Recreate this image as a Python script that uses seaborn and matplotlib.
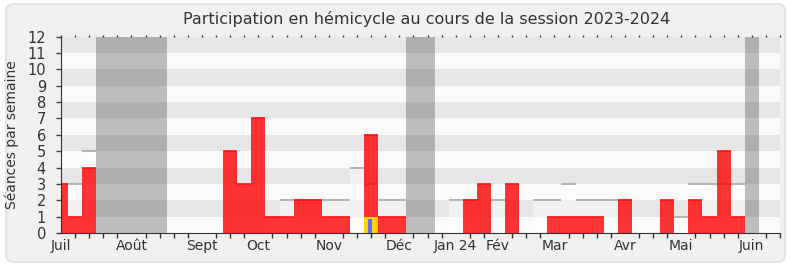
import numpy as np
import pandas as pd
import matplotlib
matplotlib.use("Agg")
import matplotlib.pyplot as plt
from matplotlib.patches import FancyBboxPatch
import seaborn as sns

# ---------------- data ----------------
weeks = np.arange(0, 52)
presence = [3, 1, 4, 0, 0, 0, 0, 0, 0, 0, 0, 0, 5, 3, 7, 1, 1, 2, 2, 1, 1, 0, 6, 1, 1, 0,
            0, 0, 0, 2, 3, 0, 3, 0, 0, 1, 1, 1, 1, 0, 2, 0, 0, 2, 0, 2, 1, 5, 1, 0, 0, 0]
median = [3, 3, 5, 0, 0, 0, 0, 0, 0, 0, 0, 0, 0, 0, 0, 1, 2, 2, 2, 2, 2, 4, 3, 2, 2, 0,
          0, 0, 2, 2, 0, 2, 0, 0, 2, 2, 3, 2, 2, 2, 2, 0, 0, 0, 1, 3, 3, 3, 3, 0, 0, 0]
vacation_weeks = [3, 4, 5, 6, 7, 25, 26, 49]
special_week = [22]
special_yellow = [1]
special_blue = [0.85]
month_labels = ["Juil", "Août", "Sept", "Oct", "Nov", "Déc", "Jan 24", "Fév",
                "Mar", "Avr", "Mai", "Juin"]
month_weeks = [0, 5, 10, 14, 19, 24, 28, 31, 35, 40, 44, 49]
y_max = 12
title = "Participation en hémicycle au cours de la session 2023-2024"
ylabel = "Séances par semaine"

# ---------------- style ----------------
plt.rcParams['font.family'] = ['DejaVu Sans']
TXT = "#333333"

fig = plt.figure(figsize=(7.9, 2.67), dpi=100)
fig.patch.set_facecolor("white")
frame = FancyBboxPatch((0.06, 0.05), 7.79, 2.58,
                       boxstyle="round,pad=0,rounding_size=0.07",
                       transform=fig.dpi_scale_trans, facecolor="#F0F0F0",
                       edgecolor="#DCDCDC", linewidth=1.0, zorder=-10)
fig.patches.append(frame)

ax = fig.add_axes([61 / 790, 1 - 233 / 267, (780 - 61) / 790, (233 - 36.7) / 267])
ax.set_zorder(5)
ax.set_facecolor("#FAFAFA")

# background stripes
for k in range(y_max):
    ax.axhspan(k, k + 1, color="#E6E6E6" if k % 2 == 1 else "#FAFAFA",
               lw=0, zorder=0)

# vacation bands
for w in vacation_weeks:
    ax.axvspan(w - 0.5, w + 0.5, color="#323232", alpha=0.3, lw=0, zorder=1)

df = pd.DataFrame({"week": weeks, "presence": presence, "median": median})

# median light bars
sns.barplot(data=df, x="week", y="median", native_scale=True, width=1,
            color="white", alpha=0.45, saturation=1, linewidth=0,
            errorbar=None, ax=ax, zorder=2)
dm = df[df["median"] > 0]
ax.hlines(dm["median"], dm["week"] - 0.5, dm["week"] + 0.5,
          color="#A8A8A8", lw=1.2, zorder=3)

# presence bars
sns.barplot(data=df, x="week", y="presence", native_scale=True, width=1,
            color="#FF0000", alpha=0.8, saturation=1, linewidth=0,
            errorbar=None, ax=ax, zorder=4)
dp = df[df["presence"] > 0]
ax.hlines(dp["presence"], dp["week"] - 0.5, dp["week"] + 0.5,
          color="#FF1010", lw=1.2, zorder=5)

# special yellow / blue bars
sns.barplot(x=special_week, y=special_yellow, native_scale=True, width=1,
            color="#FFD200", saturation=1, linewidth=0, errorbar=None,
            ax=ax, zorder=6)
blue_offset = -0.1
sns.barplot(x=[w + blue_offset for w in special_week], y=special_blue,
            native_scale=True, width=0.26, color="#6A6AFF", saturation=1,
            linewidth=0, errorbar=None, ax=ax, zorder=7)

ax.set_xlim(0, 51)
ax.set_ylim(0, y_max)

# axes cosmetics
for s in ["top", "right"]:
    ax.spines[s].set_visible(False)
ax.spines["left"].set_color("#333333")
ax.spines["bottom"].set_color("#333333")
ax.spines["left"].set_zorder(10)
ax.spines["bottom"].set_zorder(10)

ax.set_yticks(range(0, y_max + 1))
ax.set_yticklabels([str(v) for v in range(0, y_max + 1)], fontsize=10.5, color=TXT)
ax.tick_params(axis="y", direction="out", length=3.6, width=1, color="#444444", pad=7.2)

ax.set_xticks(month_weeks)
ax.set_xticklabels(month_labels, fontsize=10, color=TXT)
ax.tick_params(axis="x", which="major", length=0, pad=4)
ax.set_xticks(weeks, minor=True)
ax.tick_params(axis="x", which="minor", direction="out", length=3.6, width=1,
               color="#333333", top=False, bottom=True)
sec = ax.secondary_xaxis("top")
sec.set_xticks(weeks)
sec.set_xticklabels([])
sec.tick_params(length=1.2, width=1, color="#333333", direction="out")
sec.spines["top"].set_visible(False)

ax.set_xlabel("")
ax.set_ylabel(ylabel, fontsize=10, color=TXT)
ax.yaxis.set_label_coords(-(61 - 19) / (780 - 61), 0.5)

fig.text(427 / 790, 1 - 19 / 267, title, ha="center", va="center",
         fontsize=11.5, color=TXT)

fig.savefig("out.png", dpi=100, facecolor=fig.get_facecolor())
